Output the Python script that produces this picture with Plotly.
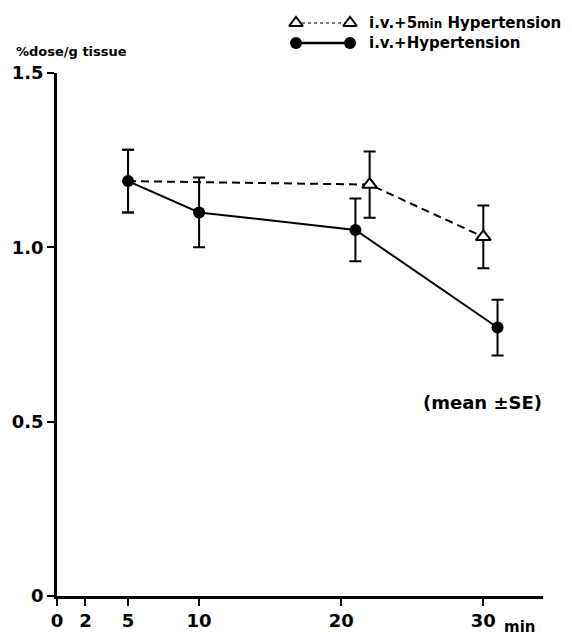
import plotly.graph_objects as go

# ---- data ----
time_ht = [5, 10, 21, 31]                 # i.v. + Hypertension (filled circles)
mean_ht = [1.19, 1.10, 1.05, 0.77]
se_ht = [0.09, 0.10, 0.09, 0.08]

time_5ht = [5, 22, 30]                    # i.v. + 5min Hypertension (open triangles)
mean_5ht = [1.19, 1.18, 1.03]
se_5ht = [0.09, 0.095, 0.09]

x_ticks = [0, 2, 5, 10, 20, 30]
y_ticks = [0, 0.5, 1.0, 1.5]
y_ticklabels = ["0", "0.5", "1.0", "1.5"]

FONT = "DejaVu Sans"
W, H = 572, 637
OFF = 8  # page body margin in the browser
# layout in reference-pixel terms
X0_REF, X1_REF = 57, 543      # x=0 and right end of x axis
Y0_REF, YTOP_REF = 596, 73    # y=0 and y=1.5
TOP_REF = 10

ML = X0_REF - OFF
MR = W - (X1_REF - OFF)
MB = H - (Y0_REF - OFF)
MT = TOP_REF - OFF
plot_w = W - ML - MR
plot_h = H - MT - MB
y_dom_top = (Y0_REF - YTOP_REF) / plot_h
leg_dom_bot = 0.9
leg_bot_ref = Y0_REF - leg_dom_bot * plot_h


def px(xr):
    return (xr - OFF - ML) / plot_w


def py(yr):
    return (H - MB - (yr - OFF)) / plot_h


fig = go.Figure()

# dashed series
fig.add_trace(go.Scatter(
    x=time_5ht, y=mean_5ht, mode="lines",
    line=dict(color="black", width=2, dash="8px,5px"),
    error_y=dict(type="data", array=se_5ht, color="black", thickness=2, width=6),
    showlegend=False, cliponaxis=False,
))
fig.add_trace(go.Scatter(
    x=time_5ht[1:], y=mean_5ht[1:], mode="markers",
    marker=dict(symbol="triangle-up", size=13, color="white",
                line=dict(width=2, color="black")),
    showlegend=False, cliponaxis=False,
))
# solid series
fig.add_trace(go.Scatter(
    x=time_ht, y=mean_ht, mode="lines+markers",
    line=dict(color="black", width=2),
    marker=dict(symbol="circle", size=12, color="black"),
    error_y=dict(type="data", array=se_ht, color="black", thickness=2, width=6),
    showlegend=False, cliponaxis=False,
))

# ---- custom legend in a small overlay subplot (reference pixel coordinates) ----
leg_x = [296, 350]
fig.add_trace(go.Scatter(
    x=leg_x, y=[23, 23], xaxis="x2", yaxis="y2", mode="lines+markers",
    line=dict(color="black", width=1, dash="dot"),
    marker=dict(symbol="triangle-up", size=12, color="white",
                line=dict(width=2, color="black")),
    showlegend=False, cliponaxis=False,
))
fig.add_trace(go.Scatter(
    x=leg_x, y=[43, 43], xaxis="x2", yaxis="y2", mode="lines+markers",
    line=dict(color="black", width=2.5),
    marker=dict(symbol="circle", size=12, color="black"),
    showlegend=False, cliponaxis=False,
))

annotations = [
    dict(x=px(367), y=py(23), xref="paper", yref="paper", xanchor="left", yanchor="middle",
         text="<b>i.v.+5<span style='font-size:12px'>min</span> Hypertension</b>",
         showarrow=False, font=dict(family=FONT, size=15, color="black")),
    dict(x=px(367), y=py(43), xref="paper", yref="paper", xanchor="left", yanchor="middle",
         text="<b>i.v.+Hypertension</b>",
         showarrow=False, font=dict(family=FONT, size=15, color="black")),
    dict(x=px(14), y=py(51), xref="paper", yref="paper", xanchor="left", yanchor="middle",
         text="<b>%dose/g tissue</b>",
         showarrow=False, font=dict(family=FONT, size=13, color="black")),
    dict(x=px(482), y=py(402), xref="paper", yref="paper", xanchor="center", yanchor="middle",
         text="<b>(mean ±SE)</b>",
         showarrow=False, font=dict(family=FONT, size=18, color="black")),
    dict(x=px(502), y=py(627), xref="paper", yref="paper", xanchor="left", yanchor="middle",
         text="<b>min</b>",
         showarrow=False, font=dict(family=FONT, size=15, color="black")),
]

fig.update_layout(
    width=W, height=H,
    margin=dict(l=ML, r=MR, t=MT, b=MB, autoexpand=False),
    paper_bgcolor="white", plot_bgcolor="white",
    font=dict(family=FONT, color="black"),
    xaxis=dict(
        range=[0, 34.2], domain=[0, 1], anchor="y", automargin=False,
        tickmode="array", tickvals=x_ticks, ticktext=[f"<b>{v}</b>" for v in x_ticks],
        ticks="outside", ticklen=7, tickwidth=2, tickcolor="black",
        showline=True, linecolor="black", linewidth=2.5,
        showgrid=False, zeroline=False,
        tickfont=dict(family=FONT, size=18, color="black"),
    ),
    yaxis=dict(
        range=[0, 1.5], domain=[0, y_dom_top], anchor="x", automargin=False,
        tickmode="array", tickvals=y_ticks, ticktext=[f"<b>{t}</b>" for t in y_ticklabels],
        ticks="outside", ticklen=7, tickwidth=2, tickcolor="black",
        showline=True, linecolor="black", linewidth=2.5,
        showgrid=False, zeroline=False,
        tickfont=dict(family=FONT, size=18, color="black"),
    ),
    xaxis2=dict(range=[X0_REF, X1_REF], domain=[0, 1], anchor="y2", visible=False,
                fixedrange=True, automargin=False),
    yaxis2=dict(range=[leg_bot_ref, TOP_REF], domain=[leg_dom_bot, 1], anchor="x2",
                visible=False, fixedrange=True, automargin=False),
    annotations=annotations,
)

fig.write_html("out.html")
